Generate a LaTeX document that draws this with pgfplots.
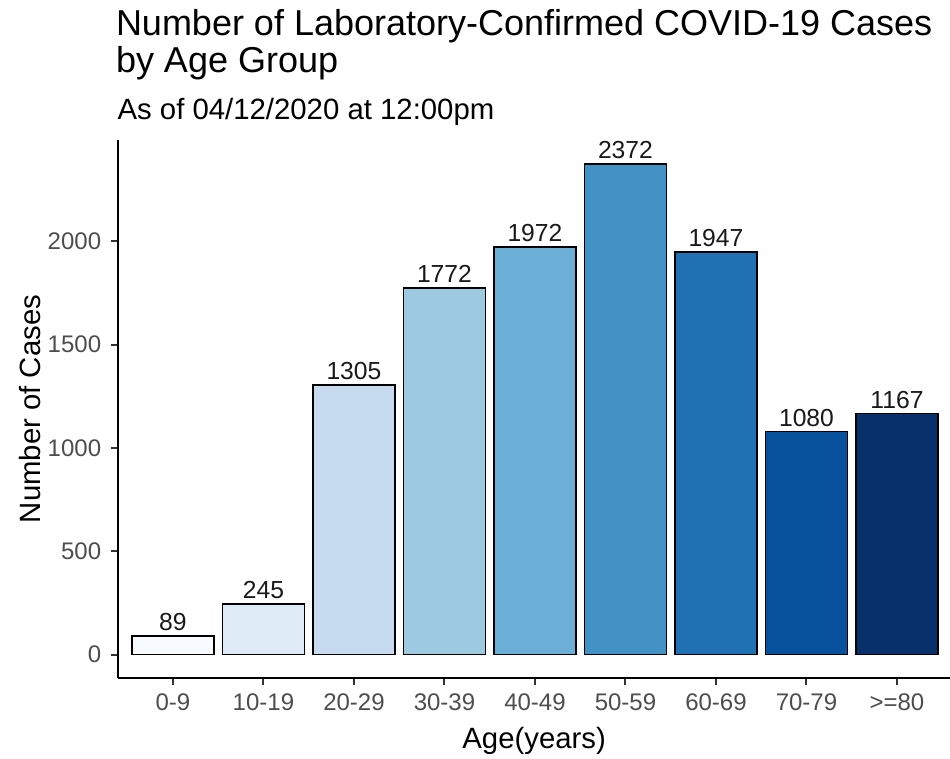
\documentclass[border=0pt]{standalone}
\usepackage{pgfplots}
\pgfplotsset{compat=1.18}
\usepackage{fontspec}
\setmainfont{Liberation Sans}
\definecolor{b1}{HTML}{F7FBFF}
\definecolor{b2}{HTML}{DEEBF7}
\definecolor{b3}{HTML}{C6DBEF}
\definecolor{b4}{HTML}{9ECAE1}
\definecolor{b5}{HTML}{6BAED6}
\definecolor{b6}{HTML}{4292C6}
\definecolor{b7}{HTML}{2171B5}
\definecolor{b8}{HTML}{08519C}
\definecolor{b9}{HTML}{08306B}
\definecolor{gray30}{HTML}{4D4D4D}
\definecolor{gray20}{HTML}{333333}
\pgfkeys{/pgf/number format/.cd, 1000 sep={}, assume math mode=true}
\begin{document}
\begin{tikzpicture}
\useasboundingbox (0,0) rectangle (712.5pt,569.25pt);
\begin{axis}[
  at={(88.7pt,60.75pt)}, anchor=south west,
  scale only axis, width=623.8pt, height=403.5pt,
  xmin=-0.604, xmax=8.586, ymin=-112.7, ymax=2489,
  axis lines*=left,
  axis line style={line width=1.5pt, black},
  xtick={0,...,8},
  xticklabels={0-9,10-19,20-29,30-39,40-49,50-59,60-69,70-79,>=80},
  ytick={0,500,1000,1500,2000},
  scaled y ticks=false,
  tick align=outside,
  major tick length=5.25pt,
  tick style={color=gray20, line width=1.5pt},
  ticklabel style={font=\fontsize{18}{20}\selectfont, text=gray30},
  xticklabel style={anchor=base, inner sep=0pt, yshift=-19.5pt},
  yticklabel style={anchor=east, inner sep=0pt, xshift=-7.4pt},
  xlabel={Age(years)},
  ylabel={Number of Cases},
  label style={font=\fontsize{22}{26}\selectfont},
  xlabel style={at={(axis description cs:0.5,-0.131)}, anchor=base, inner sep=0pt},
  ylabel style={at={(axis description cs:-0.1058,0.5)}, anchor=center, inner sep=0pt},
  ybar, bar width=0.906, bar shift=0pt,
  clip=false,
  nodes near coords,
  every node near coord/.append style={anchor=base, inner sep=0pt, yshift=4pt,
    font=\fontsize{18.5}{22}\selectfont, text=black!90},
]
\addplot[fill=b1, draw=black, line width=1.2pt] coordinates {(0,89)};
\addplot[fill=b2, draw=black, line width=1.2pt] coordinates {(1,245)};
\addplot[fill=b3, draw=black, line width=1.2pt] coordinates {(2,1305)};
\addplot[fill=b4, draw=black, line width=1.2pt] coordinates {(3,1772)};
\addplot[fill=b5, draw=black, line width=1.2pt] coordinates {(4,1972)};
\addplot[fill=b6, draw=black, line width=1.2pt] coordinates {(5,2372)};
\addplot[fill=b7, draw=black, line width=1.2pt] coordinates {(6,1947)};
\addplot[fill=b8, draw=black, line width=1.2pt] coordinates {(7,1080)};
\addplot[fill=b9, draw=black, line width=1.2pt] coordinates {(8,1167)};
\end{axis}
\node[anchor=base west, inner sep=0pt, font=\fontsize{27}{30}\selectfont] at (86.8pt,542.25pt) {Number of Laboratory-Confirmed COVID-19 Cases};
\node[anchor=base west, inner sep=0pt, font=\fontsize{27}{30}\selectfont] at (86.8pt,514.7pt) {by Age Group};
\node[anchor=base west, inner sep=0pt, font=\fontsize{22}{26}\selectfont] at (88pt,479.8pt) {As of 04/12/2020 at 12:00pm};
\end{tikzpicture}
\end{document}
